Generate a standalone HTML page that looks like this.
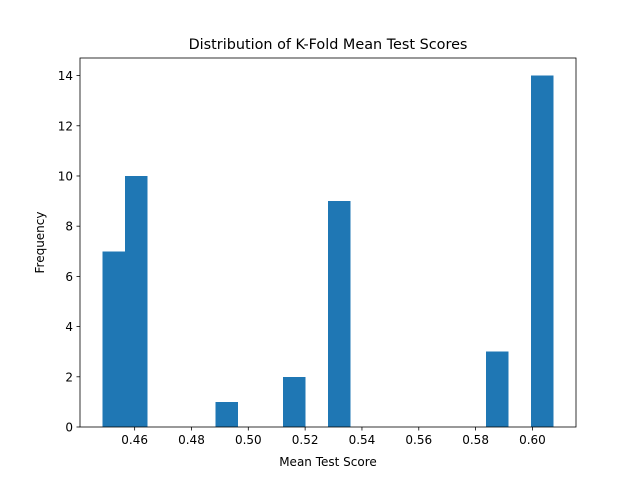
<!DOCTYPE html>
<html><head><meta charset="utf-8"><style>
body{margin:0;background:#fff;}
svg text{font-family:"DejaVu Sans","Liberation Sans",sans-serif;fill:#000;}
</style></head><body>
<svg id="chart" width="640" height="480" xmlns="http://www.w3.org/2000/svg">
<rect x="0" y="0" width="640" height="480" fill="#fff"/>
<g id="bars" shape-rendering="crispEdges"></g>
<g id="xticks"></g>
<g id="yticks"></g>
<rect x="80" y="58" width="496" height="369" fill="none" stroke="#000" stroke-width="0.8"/>
<text x="328" y="49" text-anchor="middle" font-size="14.4">Distribution of K-Fold Mean Test Scores</text>
<text x="328" y="466" text-anchor="middle" font-size="12">Mean Test Score</text>
<text x="0" y="0" transform="translate(44,242.5) rotate(-90)" text-anchor="middle" font-size="12">Frequency</text>
</svg>
<script>
const binStart = 0.4487;
const binEnd = 0.6074;
const counts = [7,10,0,0,0,1,0,0,2,0,9,0,0,0,0,0,0,3,0,14];
const xTickValues = [0.46,0.48,0.50,0.52,0.54,0.56,0.58,0.60];
const xTickLabels = ["0.46","0.48","0.50","0.52","0.54","0.56","0.58","0.60"];
const yTickValues = [0,2,4,6,8,10,12,14];

const NS="http://www.w3.org/2000/svg";
const L=80,R=576,T=58,B=427;
const xmin=binStart-(binEnd-binStart)*0.05, xmax=binEnd+(binEnd-binStart)*0.05;
const ymax=Math.max(...counts)*1.05;
const sx=v=>L+(v-xmin)/(xmax-xmin)*(R-L);
const sy=v=>B-v/ymax*(B-T);
const bw=(binEnd-binStart)/counts.length;
const bars=document.getElementById('bars');
counts.forEach((c,i)=>{
  if(!c) return;
  const r=document.createElementNS(NS,'rect');
  const x0=sx(binStart+i*bw), x1=sx(binStart+(i+1)*bw);
  r.setAttribute('x',x0);r.setAttribute('width',x1-x0);
  r.setAttribute('y',sy(c));r.setAttribute('height',B-sy(c));
  r.setAttribute('fill','#1f77b4');
  
  
  bars.appendChild(r);
});
const xt=document.getElementById('xticks');
xTickValues.forEach((v,i)=>{
  const x=sx(v);
  const l=document.createElementNS(NS,'line');
  l.setAttribute('x1',x);l.setAttribute('x2',x);l.setAttribute('y1',B);l.setAttribute('y2',B+3.5);
  l.setAttribute('stroke','#000');l.setAttribute('stroke-width','0.8');
  xt.appendChild(l);
  const t=document.createElementNS(NS,'text');
  t.setAttribute('x',x);t.setAttribute('y',B+17);t.setAttribute('text-anchor','middle');t.setAttribute('font-size','12');
  t.textContent=xTickLabels[i];
  
  
  xt.appendChild(t);
});
const yt=document.getElementById('yticks');
yTickValues.forEach(v=>{
  const y=sy(v);
  const l=document.createElementNS(NS,'line');
  l.setAttribute('x1',L-3.5);l.setAttribute('x2',L);l.setAttribute('y1',y);l.setAttribute('y2',y);
  l.setAttribute('stroke','#000');l.setAttribute('stroke-width','0.8');
  yt.appendChild(l);
  const t=document.createElementNS(NS,'text');
  t.setAttribute('x',L-7);t.setAttribute('y',y+4.5);t.setAttribute('text-anchor','end');t.setAttribute('font-size','12');
  t.textContent=String(v);
  
  
  yt.appendChild(t);
});
</script>
</body></html>
